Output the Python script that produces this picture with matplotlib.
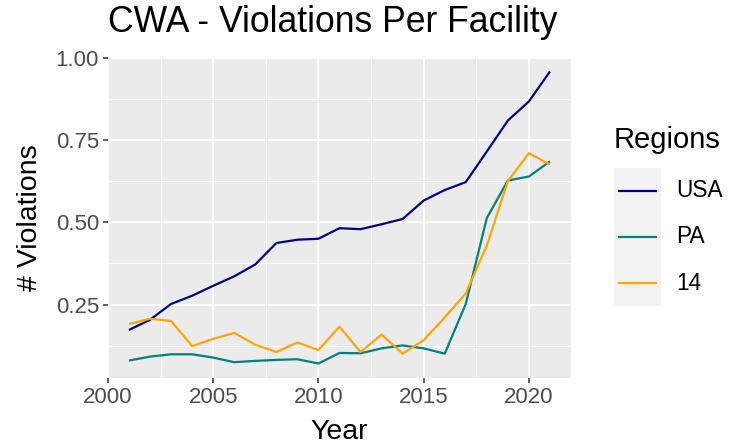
import matplotlib
matplotlib.use("Agg")
import matplotlib.pyplot as plt
from matplotlib.lines import Line2D
from matplotlib.ticker import MultipleLocator

plt.rcParams['font.family'] = ['Liberation Sans', 'DejaVu Sans']

years = list(range(2001, 2022))
usa = [0.173, 0.204, 0.252, 0.277, 0.307, 0.336, 0.372, 0.437, 0.447, 0.450,
       0.482, 0.479, 0.494, 0.510, 0.566, 0.598, 0.622, 0.715, 0.809, 0.867, 0.958]
pa = [0.080, 0.092, 0.099, 0.099, 0.089, 0.075, 0.079, 0.082, 0.084, 0.071,
      0.103, 0.102, 0.117, 0.126, 0.117, 0.101, 0.252, 0.513, 0.627, 0.639, 0.685]
r14 = [0.191, 0.207, 0.200, 0.124, 0.146, 0.164, 0.128, 0.106, 0.135, 0.112,
       0.183, 0.106, 0.159, 0.101, 0.142, 0.211, 0.284, 0.429, 0.625, 0.710, 0.675]
series_names = ["USA", "PA", "14"]
series_colors = ["#00008B", "#008080", "#FFA500"]
x_ticks = [2000, 2005, 2010, 2015, 2020]
y_ticks = [0.25, 0.50, 0.75, 1.00]
y_tick_labels = ["0.25", "0.50", "0.75", "1.00"]

W, H = 740, 445
fig = plt.figure(figsize=(W / 100, H / 100), dpi=100)
L, R, T, B = 108, 571, 57, 378
ax = fig.add_axes([L / W, 1 - B / H, (R - L) / W, (B - T) / H])
ax.set_facecolor("#EBEBEB")

for vals, name, col in zip([usa, pa, r14], series_names, series_colors):
    ax.plot(years, vals, color=col, lw=1.6, label=name, solid_capstyle='butt', zorder=3)

ax.set_xlim(2000, 2022)
ax.set_ylim(0.027, 1.002)
ax.set_xticks(x_ticks)
ax.set_xticklabels([str(v) for v in x_ticks])
ax.set_yticks(y_ticks)
ax.set_yticklabels(y_tick_labels)
ax.xaxis.set_minor_locator(MultipleLocator(2.5))
ax.yaxis.set_minor_locator(MultipleLocator(0.125))
ax.grid(which='major', color='white', lw=1.3, zorder=0)
ax.grid(which='minor', color='white', lw=0.6, zorder=0)
ax.set_axisbelow(True)
for s in ax.spines.values():
    s.set_visible(False)
ax.tick_params(which='major', length=3.5, width=1.1, color='#333333',
               labelsize=16, labelcolor='#4D4D4D', pad=3)
ax.tick_params(which='minor', length=0)

ax.set_xlabel("Year", fontsize=20.5, labelpad=8)
ax.set_ylabel("# Violations", fontsize=20.5, labelpad=9)
fig.text(L / W, 1 - 23 / H, "CWA - Violations Per Facility", fontsize=25.6,
         ha='left', va='center')

# Legend
fig.text(614 / W, 1 - 140 / H, "Regions", fontsize=21, ha='left', va='center')
fig.add_artist(plt.Rectangle((614 / W, 1 - 306 / H), 47 / W, 138 / H,
                             transform=fig.transFigure, facecolor='#F2F2F2',
                             edgecolor='none'))
key_y = [190.5, 236.5, 283]
for name, col, ky in zip(series_names, series_colors, key_y):
    fig.add_artist(Line2D([619 / W, 656 / W], [1 - ky / H, 1 - ky / H],
                          transform=fig.transFigure, color=col, lw=1.6))
    fig.text(676 / W, 1 - ky / H, name, fontsize=16.3, ha='left', va='center')

fig.savefig("out.png", dpi=100)
